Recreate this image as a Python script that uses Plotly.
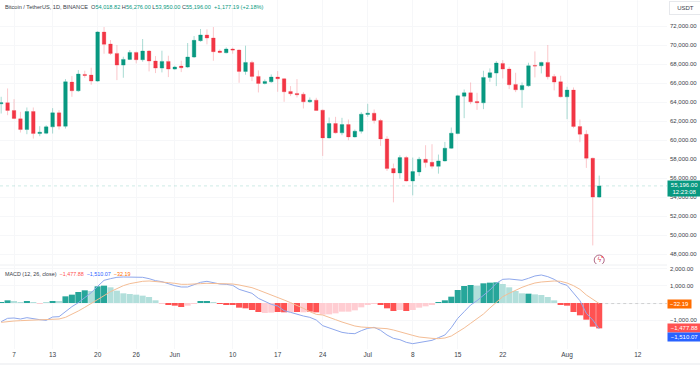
import pandas as pd
import plotly.graph_objects as go

start_date = "2024-05-05"
opens = [63822,63927,63120,62243,61119,63015,60698,60733,61400,62874,61470,66103,65191,66911,66841,66209,71368,70105,69122,67893,68490,69227,68455,69368,68315,67578,68280,
         67472,67788,67683,68736,70456,71053,70737,69368,69192,69578,69473,67227,68174,66700,65963,66138,66630,66454,65121,64910,64840,64033,64208,63155,60242,61751,60768,61646,60347,60944,
         62699,62839,62067,60136,57012,56556,58171,55714,56662,57995,57679,57258,57820,59154,60698,64629,64980,64068,63927,66595,67051,68069,67472,65858,65296,65717,67858,67823,68174,66700,66138,
         64559,65261,61435,60628,58101,54018.82]
highs = [64559,65437,64313,62980,63436,63436,61470,61576,63366,63155,66419,66735,67367,67297,67613,71439,71895,70526,70000,68771,69473,69298,70631,69473,68841,69403,68876,
         67823,68350,70210,70947,71684,71649,71895,69543,69754,69719,69543,69929,68350,67332,66384,66911,67262,66525,65682,66419,65051,64489,64454,63225,62383,62453,62348,62172,61119,62944,
         63822,63225,62243,60417,57539,58416,58346,58171,58241,59469,59575,58487,59820,61330,64769,65331,66068,64980,67297,67543,68315,68420,67718,67086,66068,68139,69333,68244,70000,66946,66770,
         65612,65542,62172,61049,58171,56276]
lows = [62804,62629,62208,60804,60628,60171,60417,60628,60698,61119,61224,64559,65086,66560,65823,66138,69087,68947,66314,66560,68420,68069,68245,67227,67051,67121,66630,
        67402,67156,67578,68631,70351,70070,68350,69122,69122,69087,66033,66876,66209,65016,65858,66033,65086,64033,64629,64489,63331,63927,63085,58346,60171,60698,60522,59997,60277,60698,
        62453,61751,59399,56767,53467,55959,55644,54204,56240,57118,57012,56486,57750,59084,60628,62313,63787,63190,63261,66138,65682,66490,65366,65051,63401,65612,66595,67016,66384,65226,64489,
        62208,61260,59785,57083,48940,53950]
closes = [63927,63120,62278,61119,63015,60698,60838,61400,62874,61470,66138,65191,66946,66806,66209,71368,70070,69122,67893,68490,69227,68455,69368,68315,67578,68280,67472,
          67683,67613,68736,70491,71053,70737,69298,69227,69578,69473,67227,68174,66700,65963,66174,66630,66454,65086,64875,64770,64033,64208,63120,60242,61751,60768,61646,60347,60944,62734,
          62839,62067,60136,57012,56556,58171,55714,56697,57995,57644,57258,57820,59154,60733,64664,64980,64033,63927,66595,67086,68104,67472,65823,65296,65752,67823,67788,68174,66665,66103,64559,
          65261,61435,60628,58101,54018,55196]

macd_line = [-1089,-894,-875,-933,-855,-933,-972,-1011,-816,-797,-505,-214,19,311,603,972,1322,1419,1497,1516,1516,1477,1497,1419,1302,1244,1108,
             1011,933,933,1069,1205,1264,1186,1108,1089,1030,797,661,564,272,78,-78,-175,-447,-544,-661,-758,-836,-991,-1322,-1439,-1594,-1711,-1769,-1788,-1613,
             -1477,-1419,-1594,-1866,-2061,-2138,-2294,-2372,-2294,-2216,-2177,-2022,-1866,-1439,-894,-505,-117,136,467,758,1147,1380,1400,1341,1322,1439,1575,1633,1536,1380,1147,
             1030,603,136,-603,-991,-1510.07]
signal_line = [-1128,-1069,-1050,-1030,-1011,-991,-991,-991,-953,-933,-836,-661,-467,-253,-39,175,428,661,855,1011,1128,1205,1264,1283,1264,1244,1186,
               1147,1089,1089,1089,1128,1147,1147,1147,1128,1108,1050,991,894,758,622,467,330,175,19,-136,-311,-505,-661,-700,-855,-972,-1108,-1244,-1341,-1400,
               -1419,-1419,-1439,-1497,-1575,-1691,-1808,-1886,-1983,-2041,-2061,-2080,-2041,-1925,-1711,-1458,-1186,-933,-642,-292,19,369,564,758,914,1050,1166,1225,1264,1283,1264,
               1166,1011,797,467,214,-32.19]
histogram = [58,155,97,58,117,58,-39,20,117,78,389,486,641,739,700,972,1011,914,719,564,525,486,428,350,156,-39,-78,
             -155,-233,-155,-39,78,117,58,-39,-78,-117,-272,-311,-408,-525,-583,-564,-525,-544,-544,-525,-544,-505,-544,-680,-661,-603,-505,-505,-428,-253,
             -97,-39,-97,-311,-467,-408,-467,-408,-272,-194,-97,20,156,369,758,991,1050,1011,1147,1186,1205,1108,914,700,564,544,505,467,350,155,-78,
             -155,-525,-719,-972,-1380,-1477.88]
hist_strong = "DDLLDLLLDLDDDDLDDLLLLLLLLLDD"[:27] + \
              "DDLLDDLDDDDDDDLLDDLDLDDLLLLLLL"[:30] + \
              "LLDDDLDLLLLDDDDDDLDDDLLLLDLLLLDD"[:31] + "DDDDDD"

price_ticks = list(range(48000, 74000, 2000))
x_tick_dates = ["2024-05-07","2024-05-13","2024-05-20","2024-05-26","2024-06-01","2024-06-10","2024-06-17","2024-06-24",
                "2024-07-01","2024-07-08","2024-07-15","2024-07-22","2024-08-01","2024-08-12"]
x_tick_text = ["7","13","20","26","Jun","10","17","24","Jul","8","15","22","Aug","12"]

dates = pd.date_range(start_date, periods=len(closes), freq="D")
UP, DOWN = "#089981", "#F23645"
FONT = "Liberation Sans"
TXT = "#3a3e49"
GRID = "#f6f7f9"

hist_colors = []
for v, s in zip(histogram, hist_strong):
    if v >= 0:
        hist_colors.append("#26A69A" if s == "D" else "#B2DFDB")
    else:
        hist_colors.append("#FF5252" if s == "D" else "#FFCDD2")

fig = go.Figure()
fig.add_trace(go.Candlestick(
    x=dates, open=opens, high=highs, low=lows, close=closes, yaxis="y", xaxis="x",
    increasing=dict(line=dict(color="rgba(8,153,129,0.35)", width=1), fillcolor=UP),
    decreasing=dict(line=dict(color="rgba(242,54,69,0.28)", width=1), fillcolor=DOWN),
    whiskerwidth=0, showlegend=False,
))
fig.add_trace(go.Bar(x=dates, y=histogram, marker=dict(color=hist_colors, line=dict(width=0)),
                     yaxis="y2", xaxis="x", showlegend=False))
fig.add_trace(go.Scatter(x=dates, y=macd_line, mode="lines", line=dict(color="#8fa8ec", width=1),
                         yaxis="y2", xaxis="x", showlegend=False))
fig.add_trace(go.Scatter(x=dates, y=signal_line, mode="lines", line=dict(color="#f4bd95", width=1),
                         yaxis="y2", xaxis="x", showlegend=False))
# lightning badge under the last candle
fig.add_trace(go.Scatter(x=[dates[-1]], y=[47400], mode="markers+text", text=["ϟ"], textposition="middle center",
                         textfont=dict(size=7, color="#d8455f", family="DejaVu Sans"),
                         marker=dict(size=10, color="white", line=dict(color="#b06a86", width=1)),
                         yaxis="y", xaxis="x", showlegend=False))
fig.add_annotation(xref="x", yref="y", x=dates[-1], y=47400, xshift=3.5, yshift=3.5, text="●", showarrow=False,
                   font=dict(size=4, color="#F23645"))

fig.update_layout(
    width=700, height=365, autosize=False,
    margin=dict(l=0, r=33, t=0, b=16),
    paper_bgcolor="white", plot_bgcolor="white",
    font=dict(family=FONT, size=6.5, color=TXT),
    bargap=0.06, boxgap=0.2, showlegend=False, hovermode=False,
    xaxis=dict(type="date", anchor="y2", range=["2024-05-04 19:40", "2024-08-16 13:00"],
               tickmode="array", tickvals=x_tick_dates, ticktext=x_tick_text,
               tickfont=dict(size=6.5, color=TXT), ticks="", showgrid=True, gridcolor=GRID, gridwidth=1,
               rangeslider=dict(visible=False), showline=False, zeroline=False),
    yaxis=dict(domain=[(349 - 264) / 349, 1], range=[46986, 74733], side="right", tickmode="array",
               tickvals=price_ticks, ticktext=[f"{v:,.2f}" for v in price_ticks],
               tickfont=dict(size=6, color=TXT), ticks="", ticklen=0, ticklabelstandoff=2, showgrid=True, gridcolor=GRID,
               zeroline=False, showline=False, anchor="x"),
    yaxis2=dict(domain=[0, (349 - 266) / 349], range=[-2682, 2157], side="right", tickmode="array",
                tickvals=[-1000, 0, 1000, 2000], ticktext=["\u22121,000.00", "", "1,000.00", "2,000.00"],
                tickfont=dict(size=6, color=TXT), ticks="", ticklabelstandoff=2, showgrid=True, gridcolor=GRID,
                zeroline=False, showline=False, anchor="x"),
)

fig.add_shape(type="line", xref="paper", x0=0, x1=1, yref="y", y0=closes[-1], y1=closes[-1],
              line=dict(color="rgba(8,153,129,0.2)", width=1, dash="dot"))
fig.add_shape(type="line", xref="x", x0=dates[-1], x1="2024-08-16 13:00", yref="y2", y0=signal_line[-1], y1=signal_line[-1],
              line=dict(color="rgba(120,120,120,0.3)", width=1, dash="dot"))
fig.add_shape(type="rect", xref="paper", yref="paper", x0=0, x1=700 / 667, y0=-16 / 349, y1=-14 / 349,
              fillcolor="#f3f4f6", line=dict(width=0))
fig.add_shape(type="line", xref="paper", yref="paper", x0=0, x1=1, y0=(349 - 265) / 349, y1=(349 - 265) / 349,
              line=dict(color="#eef0f3", width=1))

G = "#089981"
header = (f'<span style="color:{TXT}">Bitcoin / TetherUS, 1D, BINANCE  O</span><span style="color:{G}">54,018.82</span>'
          f' <span style="color:{TXT}">H</span><span style="color:{G}">56,276.00</span>'
          f' <span style="color:{TXT}">L</span><span style="color:{G}">53,950.00</span>'
          f' <span style="color:{TXT}">C</span><span style="color:{G}">55,196.00</span>'
          f'  <span style="color:{G}">+1,177.19 (+2.18%)</span>')
fig.add_annotation(xref="paper", yref="paper", x=0, xshift=3, y=1, yshift=-7, xanchor="left", yanchor="middle",
                   text=header, showarrow=False, font=dict(size=5.6, family=FONT))
macd_head = (f'<span style="color:{TXT}">MACD (12, 26, close)</span>  <span style="color:#FF5252">\u22121,477.88</span>'
             f'  <span style="color:#2962FF">\u22121,510.07</span>  <span style="color:#FF6D00">\u221232.19</span>')
fig.add_annotation(xref="paper", yref="y2", x=0, xshift=3, y=1690, xanchor="left", yanchor="middle",
                   text=macd_head, showarrow=False, font=dict(size=5.4, family=FONT))

fig.add_annotation(xref="paper", yref="paper", x=1, xshift=2, y=1, yshift=-8, xanchor="left", yanchor="middle",
                   text="USDT", showarrow=False, width=29, height=10, bgcolor="white", bordercolor="#e6e8ec", borderwidth=1,
                   font=dict(size=6, color=TXT), align="center")
fig.add_annotation(xref="paper", yref="y", x=1, y=closes[-1] - 270, xanchor="left", yanchor="middle",
                   text="55,196.00<br>12:23:08", showarrow=False, width=33, height=15, bgcolor=G, borderpad=0,
                   font=dict(size=6, color="white"), align="center")
fig.add_annotation(xref="paper", yref="y2", x=1, y=signal_line[-1], xanchor="left", yanchor="middle",
                   text="\u221232.19", showarrow=False, width=23, height=8, bgcolor="#FF6D00", borderpad=0,
                   font=dict(size=6, color="white"), align="center")
fig.add_annotation(xref="paper", yref="y2", x=1, y=histogram[-1], xanchor="left", yanchor="middle",
                   text="\u22121,477.88", showarrow=False, width=33, height=8, bgcolor="#FF5252", borderpad=0,
                   font=dict(size=6, color="white"), align="center")
fig.add_annotation(xref="paper", yref="y2", x=1, y=macd_line[-1] - 480, xanchor="left", yanchor="middle",
                   text="\u22121,510.07", showarrow=False, width=33, height=8, bgcolor="#2962FF", borderpad=0,
                   font=dict(size=6, color="white"), align="center")

fig.write_html("out.html", config={"displayModeBar": False},
               post_script="document.body.style.margin='0';document.documentElement.style.overflow='hidden';")
